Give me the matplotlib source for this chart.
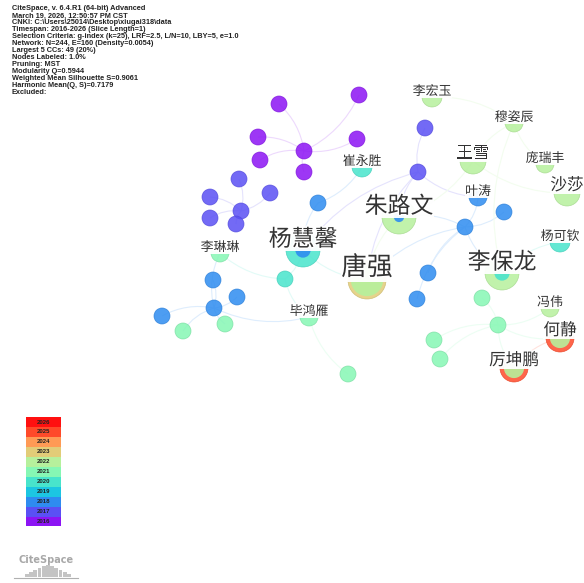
import numpy as np
import matplotlib
matplotlib.use("Agg")
import matplotlib.pyplot as plt
import matplotlib.colors as mcolors
import matplotlib.patheffects as pe
from matplotlib.patches import Circle, PathPatch, Rectangle
from matplotlib.path import Path

plt.rcParams['font.family'] = ['Noto Sans CJK SC', 'DejaVu Sans']

# legend: time slices and their colours
legend_years = [2026, 2025, 2024, 2023, 2022, 2021, 2020, 2019, 2018, 2017, 2016]
legend_colors = ['#ff1010', '#ff4a2a', '#ff9a55', '#e2cc78', '#b6f09c', '#86f7b4',
                 '#48e4cc', '#1cc6e2', '#2e8cf0', '#5a50f4', '#8c14f4']

# nodes (pixel positions)
node_x = [279, 359, 258, 357, 304, 260, 304,
          239, 210, 270, 241, 210, 236, 425, 418,
          318, 465, 504, 428, 417, 213, 237, 214, 162,
          285, 183, 225, 348, 482, 498, 434, 440,
          432, 514, 473, 545, 567, 478, 560, 399, 303, 367, 502, 362, 220, 309, 550, 560, 514]
node_y = [104, 95, 137, 139, 151, 160, 172,
          179, 197, 193, 211, 218, 224, 128, 172,
          203, 227, 212, 273, 299, 280, 297, 308, 316,
          279, 331, 324, 374, 298, 325, 340, 359,
          97, 123, 161, 164, 193, 197, 242, 217, 250, 280, 273, 167, 253, 317, 308, 338, 368]
node_r = [8] * 32 + [10, 9, 13, 9, 13, 9, 10, 17, 17, 19, 17, 10, 9, 9, 9, 14, 14]
node_year = [2016] * 7 + [2017] * 8 + [2018] * 9 + [2020] + [2021] * 7 + \
            [2022, 2022, 2022, 2022, 2022, 2018, 2020, 2022, 2020, 2023, 2022, 2020, 2021, 2021,
             2022, 2025, 2025]
inner_year = [None] * 32 + [None, None, None, None, None, None, None, 2018, 2018, 2022, 2020,
                            None, None, None, None, 2022, 2022]
inner_frac = [0] * 32 + [0, 0, 0, 0, 0, 0, 0, 0.3, 0.45, 0.85, 0.45, 0, 0, 0, 0, 0.72, 0.72]
labels = [''] * 32 + ['李宏玉', '穆姿辰', '王雪', '庞瑞丰', '沙莎', '叶涛', '杨可钦', '朱路文',
                      '杨慧馨', '唐强', '李保龙', '崔永胜', '李琳琳', '毕鸿雁', '冯伟', '何静', '厉坤鹏']
label_size = [0] * 32 + [9.3, 9.3, 12, 9.3, 12, 9.3, 9.3, 16.5, 16.5, 18.5, 16.5, 9.3, 9.3, 9.3,
                         9.3, 12, 12]

edges = [(4, 0), (4, 1), (4, 2), (4, 3), (4, 5), (4, 6),
         (10, 7), (10, 8), (10, 9), (10, 11), (10, 12),
         (13, 14), (14, 39), (14, 37), (14, 41), (14, 40),
         (15, 43), (15, 40), (40, 41),
         (16, 17), (16, 37), (16, 18), (16, 19), (16, 42), (16, 41), (16, 39),
         (39, 34), (39, 41), (34, 36), (33, 32), (33, 35), (33, 34), (33, 42), (38, 42),
         (29, 28), (29, 46), (29, 47), (29, 48), (29, 30), (29, 31), (47, 48),
         (44, 24), (24, 40), (24, 45), (44, 22), (22, 20), (22, 21), (22, 23),
         (22, 25), (22, 26), (22, 45), (45, 27)]

header = ["CiteSpace, v. 6.4.R1 (64-bit) Advanced",
          "March 19, 2026, 12:50:57 PM CST",
          "CNKI: C:\\Users\\25014\\Desktop\\xiugai318\\data",
          "Timespan: 2016-2026 (Slice Length=1)",
          "Selection Criteria: g-index (k=25), LRF=2.5, L/N=10, LBY=5, e=1.0",
          "Network: N=244, E=160 (Density=0.0054)",
          "Largest 5 CCs: 49 (20%)",
          "Nodes Labeled: 1.0%",
          "Pruning: MST",
          "Modularity Q=0.5944",
          "Weighted Mean Silhouette S=0.9061",
          "Harmonic Mean(Q, S)=0.7179",
          "Excluded:"]

logo_bars = [3, 5, 7, 9, 11, 12, 11, 9, 7, 5, 3]

year_color = dict(zip(legend_years, legend_colors))


def lighten(c, f):
    r, g, b = mcolors.to_rgb(c)
    return (r + (1 - r) * f, g + (1 - g) * f, b + (1 - b) * f)


def darken(c, f):
    r, g, b = mcolors.to_rgb(c)
    return (r * f, g * f, b * f)


fig = plt.figure(figsize=(5.84, 5.83), dpi=100)
ax = fig.add_axes([0, 0, 1, 1])
ax.set_xlim(0, 584)
ax.set_ylim(583, 0)
ax.axis('off')

# edges as soft curves
for a, b in edges:
    x0, y0, x1, y1 = node_x[a], node_y[a], node_x[b], node_y[b]
    mx, my = (x0 + x1) / 2, (y0 + y1) / 2
    dx, dy = x1 - x0, y1 - y0
    cx, cy = mx - dy * 0.18, my + dx * 0.18
    p = Path([(x0, y0), (cx, cy), (x1, y1)], [Path.MOVETO, Path.CURVE3, Path.CURVE3])
    col = lighten(year_color[min(node_year[a], node_year[b])], 0.84)
    ax.add_patch(PathPatch(p, fc='none', ec=col, lw=0.8, zorder=1))

# nodes
for i in range(len(node_x)):
    c = year_color[node_year[i]]
    ax.add_patch(Circle((node_x[i], node_y[i]), node_r[i], fc=c, ec=darken(c, 0.9),
                        lw=0.5, alpha=0.85, zorder=2))
    if inner_year[i] is not None:
        ci = year_color[inner_year[i]]
        ax.add_patch(Circle((node_x[i], node_y[i]), node_r[i] * inner_frac[i], fc=ci,
                            ec='none', alpha=0.9, zorder=2))

# labels
for i in range(len(node_x)):
    if labels[i]:
        ax.text(node_x[i], node_y[i] + 1, labels[i], fontsize=label_size[i], color='#333333',
                ha='center', va='bottom', zorder=3,
                bbox=dict(fc='white', ec='none', pad=0.3, alpha=0.95),
                path_effects=[pe.withStroke(linewidth=2, foreground='white')])

# header text
for k, line in enumerate(header):
    ax.text(12, 9 + k * 6.95, line, fontsize=5.3, fontweight='bold', color='#222222',
            family='Liberation Sans', va='center', ha='left')

# colour legend
for k, (yr, col) in enumerate(zip(legend_years, legend_colors)):
    y = 417 + k * 9.95
    ax.add_patch(Rectangle((26, y), 35, 9.95, fc=col, ec='none', zorder=2))
    ax.text(43.5, y + 5, str(yr), fontsize=4.3, fontweight='bold', color='#222222',
            family='Liberation Sans', ha='center', va='center', zorder=3)

# CiteSpace logo
ax.text(46, 560, 'CiteSpace', fontsize=7, fontweight='bold', color='#a8a8a8',
        family='DejaVu Sans', ha='center', va='center')
for k, h in enumerate(logo_bars):
    ax.add_patch(Rectangle((25 + k * 4.2, 577 - h), 3.8, h, fc='#c4c4c4', ec='none'))
ax.plot([14, 78], [578, 578], color='#b0b0b0', lw=0.8)

fig.savefig('out.png', dpi=100)
